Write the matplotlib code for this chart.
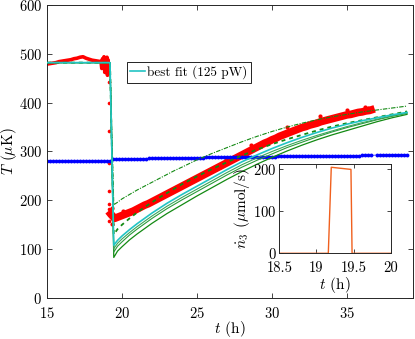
import matplotlib
matplotlib.use("Agg")
import matplotlib.pyplot as plt

plt.rcParams['font.family'] = 'serif'
plt.rcParams['font.serif'] = ['cmr10', 'DejaVu Serif']
plt.rcParams['mathtext.fontset'] = 'cm'
plt.rcParams['axes.formatter.use_mathtext'] = True
plt.rcParams['font.size'] = 10

# ---------------- data ----------------
# measured temperature (red), before the fill
red_pre_t = [15.0, 15.2, 15.4, 15.6, 15.8, 16.0, 16.2, 16.4, 16.6, 16.8, 17.0, 17.2, 17.4,
             17.6, 17.8, 18.0, 18.2, 18.4, 18.6, 18.65, 18.7, 18.75, 18.8, 18.85, 18.9,
             18.95, 19.0, 19.03, 19.06, 19.09, 19.12]
red_pre_T = [479, 480, 481, 482, 484, 485, 486, 487, 488, 490, 491, 493, 494,
             491, 489, 487, 486, 485, 484, 470, 490, 476, 494, 462, 487,
             470, 493, 456, 488, 465, 480]
# isolated points during the drop
red_drop_t = [19.12, 19.12, 19.13, 19.14, 19.12, 19.13, 19.15, 19.15, 19.16, 19.18]
red_drop_T = [442, 400, 342, 276, 220, 193, 183, 170, 158, 175]
# measured temperature after the fill
red_post_t = [19.25, 19.5, 19.75, 20.0, 20.25, 20.5, 20.75, 21.0, 21.25, 21.5, 21.75,
              22.0, 22.25, 22.5, 22.75, 23.0, 23.25, 23.5, 23.75, 24.0, 24.25, 24.5,
              24.75, 25.0, 25.25, 25.5, 25.75, 26.0, 26.25, 26.5, 26.75, 27.0, 27.25,
              27.5, 27.75, 28.0, 28.25, 28.5, 28.75, 29.0, 29.25, 29.5, 29.75, 30.0,
              30.25, 30.5, 30.75, 31.0, 31.25, 31.5, 31.75, 32.0, 32.25, 32.5, 32.75,
              33.0, 33.25, 33.5, 33.75, 34.0, 34.25, 34.5, 34.75, 35.0, 35.25, 35.5,
              35.75, 36.0, 36.25, 36.5, 36.6]
red_post_T = [172, 163, 166, 169, 172, 175, 178, 182, 186, 190, 193,
              197, 201, 205, 209, 213, 217, 221, 225, 229, 233, 237,
              241, 245, 249, 253, 257, 261, 265, 269, 273, 277, 281,
              285, 289, 293, 297, 301, 305, 309, 313, 317, 320, 324,
              327, 331, 334, 337, 340, 343, 346, 349, 351, 354, 356,
              358, 361, 363, 365, 367, 369, 371, 373, 375, 376, 378,
              380, 381, 383, 384, 385]
red_spike_t = [19.3, 19.35, 20.05, 26.9, 28.6, 31.0, 33.2, 35.0, 36.2, 36.4]
red_spike_T = [185, 152, 179, 287, 314, 350, 372, 384, 392, 390]

# second thermometer (blue)
blue_t = [15.0, 15.2, 15.4, 15.6, 15.8, 16.0, 16.2, 16.4, 16.6, 16.8, 17.0, 17.2, 17.4, 17.6,
          17.8, 18.0, 18.2, 18.4, 18.6, 18.8, 19.0, 19.2,
          19.4, 19.6, 19.8, 20.0, 20.2, 20.4, 20.6, 20.8,
          21.0, 21.2, 21.4, 21.6, 21.8, 22.0, 22.2, 22.4, 22.6, 22.8,
          23.0, 23.2, 23.4, 23.6, 23.8, 24.0, 24.2, 24.4, 24.6, 24.8,
          25.0, 25.2, 25.4, 25.6, 25.8, 26.0, 26.2, 26.4, 26.6, 26.8,
          27.0, 27.2, 27.4, 27.6, 27.8, 28.0, 28.2, 28.4, 28.6, 28.8,
          29.0, 29.2, 29.4, 29.6, 29.8, 30.0, 30.2, 30.4, 30.6, 30.8,
          31.0, 31.2, 31.4, 31.6, 31.8, 32.0, 32.2, 32.4, 32.6, 32.8,
          33.0, 33.2, 33.4, 33.6, 33.8, 34.0, 34.2, 34.4, 34.6, 34.8,
          35.0, 35.2, 35.4, 35.6, 35.8, 36.0, 36.2, 36.4, 36.6,
          37.0, 37.2, 37.4, 37.6, 37.8, 38.0, 38.2, 38.4, 38.6, 38.8, 39.0]
blue_T = [280.4, 280.6, 280.5, 280.3, 280.5, 280.6, 280.4, 280.5, 280.7, 280.5, 280.4, 280.6,
          280.5, 280.3, 280.5, 280.6, 280.4, 280.5, 280.6, 280.4, 280.5, 280.6,
          283.8, 284.0, 284.2, 284.4, 284.6, 284.7, 284.9, 285.0,
          285.2, 285.3, 285.5, 285.6, 285.8, 285.9, 286.0, 286.1, 286.3, 286.4,
          286.5, 286.6, 286.7, 286.8, 286.9, 287.0, 287.1, 287.2, 287.3, 287.4,
          287.5, 287.6, 287.7, 287.8, 287.9, 288.0, 288.1, 288.2, 288.3, 288.4,
          288.5, 288.6, 288.6, 288.7, 288.8, 288.9, 289.0, 289.0, 289.1, 289.2,
          289.3, 289.4, 289.4, 289.5, 289.6, 289.7, 289.7, 289.8, 289.9, 290.0,
          290.0, 290.1, 290.2, 290.3, 290.3, 290.4, 290.5, 290.6, 290.6, 290.7,
          290.8, 290.9, 290.9, 291.0, 291.1, 291.2, 291.2, 291.3, 291.4, 291.5,
          291.5, 291.6, 291.7, 291.8, 291.8, 291.9, 292.0, 292.1, 292.1,
          292.8, 292.9, 293.0, 293.1, 293.2, 293.3, 293.4, 293.5, 293.6, 293.7, 293.8]

# model curves
fit_t = [15, 19.2, 19.45, 19.7, 20, 20.5, 21, 21.5, 22, 22.5, 23, 23.5, 24, 25, 26, 27, 28,
         29, 30, 31, 32, 33, 34, 35, 36, 37, 38, 39]
best_fit = [482, 482, 108, 118, 127, 140, 152, 163, 174, 184, 194, 203, 212, 229, 246, 263,
            279, 293, 306, 318, 329, 339, 348, 356, 363, 369, 375, 380]
model_a = [482, 482, 83, 96, 105, 119, 131, 142, 153, 163, 173, 182, 191, 209, 226, 243,
           259, 274, 288, 301, 313, 324, 334, 343, 352, 361, 369, 376]
model_b = [482, 482, 94, 106, 115, 129, 141, 152, 163, 173, 183, 192, 201, 218, 235, 252,
           268, 282, 295, 308, 319, 330, 340, 349, 357, 365, 372, 378]
model_c = [482, 482, 101, 112, 121, 134, 146, 157, 168, 178, 188, 197, 206, 223, 240, 257,
           273, 287, 300, 312, 323, 333, 342, 351, 359, 366, 373, 379]
model_dashed = [482, 482, 130, 141, 150, 163, 175, 186, 196, 206, 215, 224, 233, 249, 264,
                278, 292, 304, 315, 325, 334, 343, 351, 358, 364, 370, 376, 382]
model_dashdot = [482, 482, 191, 196, 203, 212, 221, 229, 237, 245, 253, 261, 268, 283, 296,
                 308, 320, 331, 341, 350, 358, 365, 371, 376, 381, 385, 389, 393]
legend_label = 'best fit (125 pW)'

# inset: flow rate
flow_t = [18.5, 19.16, 19.2, 19.465, 19.48, 20.0]
flow_n = [0, 0, 203, 198, 0, 0]

# ---------------- figure ----------------
fig = plt.figure(figsize=(4.15, 3.39), dpi=100)
ax = fig.add_axes([0.1133, 0.1209, 0.8819, 0.8644])

red = '#ff0000'
green = '#138a13'
cyan = '#22c4c4'
spine_c = '#262626'

ax.plot(red_pre_t, red_pre_T, color=red, lw=2.6, solid_capstyle='butt', zorder=1)
ax.plot(red_drop_t, red_drop_T, 'o', color=red, ms=2.6, mew=0, zorder=1)
ax.plot(red_post_t, red_post_T, color=red, lw=5.5, zorder=1)
ax.plot(red_post_t, red_post_T, 'o', color=red, ms=3, mew=0, zorder=1)
ax.plot(red_spike_t, red_spike_T, 'o', color=red, ms=3, mew=0, zorder=1)

ax.plot(blue_t, blue_T, 'o-', color='#0000ff', ms=2.8, mew=0, lw=0.5, zorder=2)

ax.plot(fit_t, model_a, color=green, lw=0.9, zorder=3)
ax.plot(fit_t, model_b, color='#2b9a3a', lw=0.8, zorder=3)
ax.plot(fit_t, model_c, color='#3aa55a', lw=0.8, zorder=3)
ax.plot(fit_t, model_dashed, color=green, lw=1.3, ls=(0, (2.2, 2.2)), zorder=3)
ax.plot(fit_t, model_dashdot, color=green, lw=0.8, ls=(0, (4, 1.2, 1, 1.2)), zorder=3)
ax.plot(fit_t, best_fit, color=cyan, lw=1.2, zorder=4, label=legend_label)

ax.set_xlim(15, 39.4)
ax.set_ylim(0, 600)
ax.set_xticks([15, 20, 25, 30, 35])
ax.set_yticks([0, 100, 200, 300, 400, 500, 600])
ax.tick_params(direction='in', top=True, right=True, length=3.5, width=0.6,
               colors=spine_c, labelsize=10.5, labelcolor='black')
ax.tick_params(axis='x', pad=5.5)
for s in ax.spines.values():
    s.set_linewidth(0.7)
    s.set_color(spine_c)
ax.set_xlabel(r'$t$ (h)', fontsize=11, labelpad=-1.5)
ax.set_ylabel(r'$T$ ($\mu$K)', fontsize=11, labelpad=0)

leg = ax.legend(loc='upper left', bbox_to_anchor=(0.218, 0.805), fontsize=9.5,
                handlelength=1.1, handletextpad=0.2, borderpad=0.25,
                borderaxespad=0, fancybox=False, framealpha=1)
leg.get_frame().set_edgecolor('black')
leg.get_frame().set_linewidth(0.6)

# inset
axi = fig.add_axes([0.673, 0.2528, 0.2684, 0.2625])
axi.plot(flow_t, flow_n, color='#f0601e', lw=1.0)
axi.set_xlim(18.5, 20.0)
axi.set_ylim(0, 210)
axi.set_xticks([18.5, 19, 19.5, 20])
axi.set_xticklabels(['18.5', '19', '19.5', '20'])
axi.set_yticks([0, 100, 200])
axi.tick_params(direction='in', top=True, right=True, length=3, width=0.6,
                colors=spine_c, labelsize=10.5, labelcolor='black', pad=2)
axi.tick_params(axis='x', pad=6)
for s in axi.spines.values():
    s.set_linewidth(0.7)
    s.set_color(spine_c)
axi.set_xlabel(r'$t$ (h)', fontsize=11, labelpad=0)
axi.set_ylabel(r'$\dot{n}_3$ ($\mu$mol/s)', fontsize=11, labelpad=1)

fig.savefig('out.png', dpi=100)
